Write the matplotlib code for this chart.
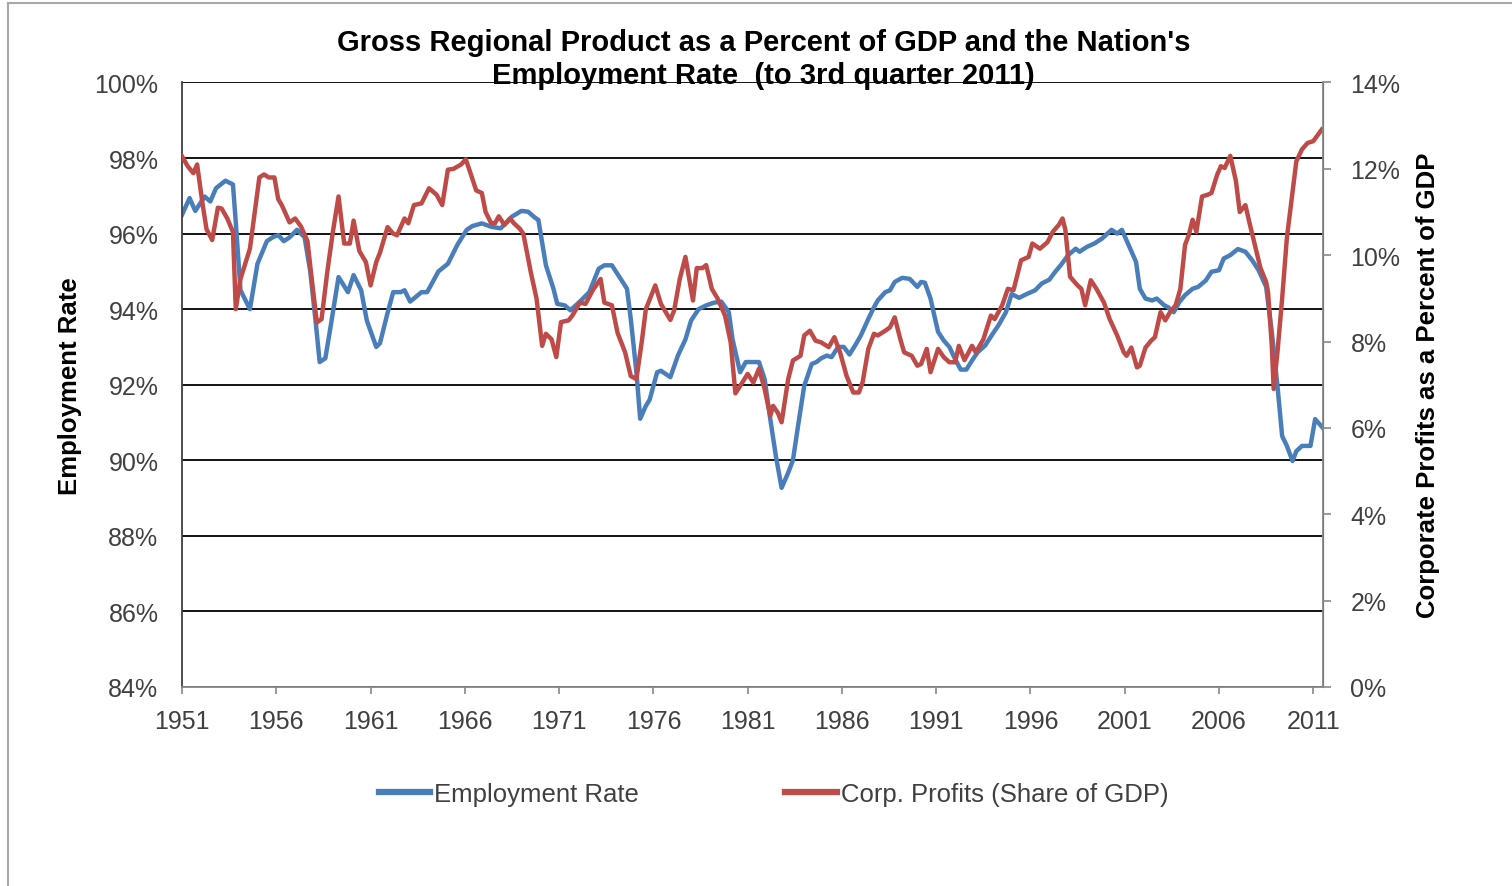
import matplotlib
matplotlib.use("Agg")
import matplotlib.pyplot as plt
from matplotlib.lines import Line2D
from matplotlib.ticker import FuncFormatter

plt.rcParams['font.family'] = ['Liberation Sans', 'DejaVu Sans']

# Employment rate (%)
emp_years = [
    1951.0, 1951.4, 1951.7, 1952.2, 1952.5, 1952.8, 1953.3, 1953.7, 1953.85, 1954.1,
    1954.6, 1955.0, 1955.5, 1955.8, 1956.1, 1956.4, 1956.7, 1957.1, 1957.5, 1957.8,
    1958.1, 1958.3, 1958.6, 1958.9, 1959.3, 1959.8, 1960.1, 1960.5, 1960.8, 1961.3,
    1961.5, 1961.9, 1962.2, 1962.6, 1962.8, 1963.1, 1963.7, 1964.0, 1964.6, 1965.1,
    1965.6, 1966.1, 1966.4, 1966.9, 1967.4, 1967.9, 1968.5, 1969.0, 1969.35, 1969.7,
    1969.9, 1970.3, 1970.7, 1970.9, 1971.3, 1971.6, 1972.1, 1972.6, 1973.1, 1973.4,
    1973.8, 1974.2, 1974.6, 1974.8, 1975.1, 1975.3, 1975.6, 1975.8, 1976.2, 1976.4,
    1976.9, 1977.3, 1977.7, 1978.0, 1978.4, 1978.8, 1979.2, 1979.6, 1980.0, 1980.2,
    1980.6, 1980.9, 1981.6, 1981.9, 1982.2, 1982.5, 1982.8, 1983.15, 1983.4, 1983.7,
    1984.0, 1984.4, 1984.65, 1984.9, 1985.2, 1985.45, 1985.8, 1986.1, 1986.4, 1986.7,
    1987.0, 1987.4, 1987.7, 1987.9, 1988.3, 1988.55, 1988.8, 1989.2, 1989.6, 1990.0,
    1990.2, 1990.4, 1990.7, 1990.9, 1991.1, 1991.4, 1991.7, 1992.0, 1992.3, 1992.6,
    1992.9, 1993.2, 1993.6, 1994.0, 1994.3, 1994.7, 1995.0, 1995.4, 1995.8, 1996.25,
    1996.6, 1997.0, 1997.3, 1997.6, 1998.0, 1998.4, 1998.6, 1999.0, 1999.4, 1999.8,
    2000.3, 2000.6, 2000.85, 2001.2, 2001.6, 2001.8, 2002.1, 2002.45, 2002.7, 2003.1,
    2003.3, 2003.6, 2003.9, 2004.2, 2004.6, 2004.9, 2005.3, 2005.6, 2006.0, 2006.25,
    2006.6, 2007.0, 2007.4, 2007.75, 2008.1, 2008.5, 2008.6, 2008.8, 2009.1, 2009.35,
    2009.6, 2009.9, 2010.1, 2010.4, 2010.85, 2011.1, 2011.5,
]
emp_rate = [
    96.5, 96.94, 96.6, 96.98, 96.85, 97.2, 97.4, 97.3, 96.3, 94.5,
    94.0, 95.2, 95.8, 95.9, 95.96, 95.8, 95.9, 96.1, 95.9, 95.0,
    93.6, 92.6, 92.7, 93.6, 94.85, 94.45, 94.9, 94.5, 93.7, 93.0,
    93.1, 93.9, 94.45, 94.45, 94.5, 94.2, 94.45, 94.45, 95.0, 95.2,
    95.7, 96.1, 96.2, 96.27, 96.18, 96.14, 96.45, 96.6, 96.58, 96.43,
    96.36, 95.16, 94.54, 94.14, 94.1, 93.97, 94.2, 94.45, 95.07, 95.16,
    95.16, 94.85, 94.54, 93.74, 92.33, 91.1, 91.44, 91.6, 92.33, 92.37,
    92.2, 92.77, 93.2, 93.7, 94.0, 94.1, 94.17, 94.2, 93.92, 93.2,
    92.33, 92.6, 92.6, 92.15, 91.09, 90.1, 89.27, 89.67, 90.0, 91.0,
    91.97, 92.55, 92.6, 92.7, 92.77, 92.73, 93.0, 93.0, 92.8, 93.04,
    93.3, 93.74, 94.05, 94.23, 94.45, 94.5, 94.72, 94.83, 94.8, 94.59,
    94.72, 94.7, 94.28, 93.83, 93.4, 93.17, 93.0, 92.68, 92.4, 92.4,
    92.64, 92.86, 93.04, 93.35, 93.57, 93.92, 94.4, 94.3, 94.4, 94.5,
    94.68, 94.78, 94.98, 95.16, 95.43, 95.6, 95.52, 95.65, 95.74, 95.87,
    96.1, 96.0, 96.1, 95.7, 95.25, 94.54, 94.28, 94.23, 94.28, 94.1,
    94.05, 93.92, 94.19, 94.37, 94.54, 94.59, 94.76, 94.99, 95.03, 95.34,
    95.43, 95.59, 95.52, 95.3, 95.03, 94.59, 94.19, 93.4, 91.97, 90.64,
    90.38, 89.98, 90.24, 90.38, 90.38, 91.09, 90.86,
]

# Corporate profits as share of GDP (%)
prof_years = [
    1951.0, 1951.3, 1951.6, 1951.8, 1952.1, 1952.3, 1952.6, 1952.9, 1953.1, 1953.4,
    1953.7, 1953.85, 1954.1, 1954.6, 1955.1, 1955.35, 1955.6, 1955.9, 1956.1, 1956.3,
    1956.7, 1957.0, 1957.3, 1957.65, 1957.9, 1958.15, 1958.4, 1958.7, 1959.0, 1959.3,
    1959.6, 1959.9, 1960.1, 1960.4, 1960.75, 1961.0, 1961.3, 1961.5, 1961.9, 1962.2,
    1962.4, 1962.8, 1963.0, 1963.3, 1963.7, 1964.1, 1964.5, 1964.8, 1965.1, 1965.4,
    1965.8, 1966.05, 1966.3, 1966.6, 1966.9, 1967.1, 1967.4, 1967.6, 1967.8, 1968.1,
    1968.4, 1968.6, 1968.9, 1969.1, 1969.5, 1969.8, 1970.1, 1970.3, 1970.6, 1970.85,
    1971.1, 1971.5, 1971.7, 1972.1, 1972.4, 1972.8, 1973.2, 1973.4, 1973.8, 1974.1,
    1974.5, 1974.8, 1975.1, 1975.4, 1975.6, 1976.1, 1976.4, 1976.9, 1977.1, 1977.4,
    1977.7, 1977.9, 1978.1, 1978.3, 1978.6, 1978.8, 1979.1, 1979.4, 1979.8, 1980.1,
    1980.35, 1980.6, 1981.0, 1981.3, 1981.6, 1981.9, 1982.2, 1982.35, 1982.6, 1982.8,
    1983.15, 1983.4, 1983.8, 1984.0, 1984.3, 1984.6, 1984.9, 1985.3, 1985.6, 1985.9,
    1986.25, 1986.6, 1986.9, 1987.1, 1987.4, 1987.7, 1987.9, 1988.3, 1988.55, 1988.8,
    1989.1, 1989.3, 1989.7, 1990.0, 1990.2, 1990.5, 1990.7, 1991.1, 1991.4, 1991.7,
    1992.0, 1992.2, 1992.5, 1992.9, 1993.1, 1993.5, 1993.9, 1994.1, 1994.5, 1994.8,
    1995.1, 1995.5, 1995.9, 1996.1, 1996.5, 1996.9, 1997.2, 1997.5, 1997.7, 1997.85,
    1998.1, 1998.5, 1998.7, 1998.9, 1999.2, 1999.5, 1999.9, 2000.2, 2000.6, 2000.95,
    2001.1, 2001.35, 2001.65, 2001.8, 2002.1, 2002.4, 2002.6, 2002.9, 2003.15, 2003.4,
    2003.7, 2003.95, 2004.2, 2004.4, 2004.6, 2004.8, 2005.1, 2005.4, 2005.6, 2005.9,
    2006.1, 2006.3, 2006.6, 2006.9, 2007.1, 2007.4, 2007.6, 2007.9, 2008.2, 2008.5,
    2008.6, 2008.8, 2008.9, 2009.1, 2009.35, 2009.6, 2009.9, 2010.1, 2010.4, 2010.7,
    2011.0, 2011.2, 2011.45,
]
prof_share = [
    12.29, 12.06, 11.9, 12.1, 11.15, 10.6, 10.35, 11.1, 11.08, 10.85,
    10.54, 8.75, 9.45, 10.15, 11.8, 11.87, 11.8, 11.8, 11.3, 11.15,
    10.76, 10.85, 10.67, 10.33, 9.37, 8.44, 8.52, 9.6, 10.54, 11.36,
    10.27, 10.27, 10.8, 10.1, 9.84, 9.3, 9.84, 10.06, 10.65, 10.5,
    10.46, 10.85, 10.74, 11.16, 11.2, 11.55, 11.4, 11.16, 11.98, 12.0,
    12.1, 12.22, 11.9, 11.5, 11.44, 11.0, 10.74, 10.74, 10.9, 10.7,
    10.85, 10.74, 10.62, 10.5, 9.6, 9.0, 7.9, 8.18, 8.05, 7.64,
    8.45, 8.49, 8.6, 8.9, 8.87, 9.2, 9.45, 8.9, 8.84, 8.2,
    7.75, 7.2, 7.13, 8.05, 8.75, 9.3, 8.87, 8.5, 8.72, 9.45,
    9.96, 9.45, 8.95, 9.7, 9.7, 9.77, 9.22, 9.0, 8.6, 7.98,
    6.8, 6.97, 7.25, 7.05, 7.37, 6.9, 6.28, 6.51, 6.35, 6.13,
    7.13, 7.56, 7.67, 8.14, 8.25, 8.02, 7.98, 7.87, 8.1, 7.75,
    7.2, 6.82, 6.82, 7.06, 7.83, 8.18, 8.14, 8.25, 8.33, 8.56,
    8.05, 7.75, 7.67, 7.44, 7.48, 7.83, 7.29, 7.83, 7.64, 7.52,
    7.52, 7.9, 7.57, 7.9, 7.75, 8.05, 8.6, 8.52, 8.84, 9.22,
    9.19, 9.88, 9.96, 10.27, 10.15, 10.3, 10.55, 10.7, 10.85, 10.59,
    9.5, 9.3, 9.22, 8.84, 9.42, 9.22, 8.9, 8.52, 8.14, 7.75,
    7.67, 7.86, 7.4, 7.44, 7.86, 8.02, 8.1, 8.68, 8.49, 8.68,
    8.84, 9.22, 10.24, 10.47, 10.82, 10.54, 11.36, 11.4, 11.44, 11.86,
    12.06, 12.02, 12.3, 11.71, 11.0, 11.16, 10.78, 10.24, 9.7, 9.38,
    9.15, 7.91, 6.9, 7.75, 9.0, 10.4, 11.47, 12.17, 12.45, 12.6,
    12.64, 12.76, 12.91,
]

year_ticks = list(range(1951, 2012, 5))
emp_ticks = list(range(84, 101, 2))
prof_ticks = list(range(0, 15, 2))

blue = '#4A7EBB'
red = '#BE4B48'
label_color = '#404040'

fig, ax = plt.subplots(figsize=(15.12, 8.87), dpi=100)
fig.subplots_adjust(left=0.1204, right=0.8748, top=0.9059, bottom=0.2244)
ax2 = ax.twinx()

ax.plot(emp_years, emp_rate, color=blue, lw=3.2, label='Employment Rate')
ax2.plot(prof_years, prof_share, color=red, lw=3.2, label='Corp. Profits (Share of GDP)')

ax.set_xlim(1951, 2011.5)
ax.set_ylim(84, 100)
ax2.set_ylim(0, 14)

ax.set_xticks(year_ticks)
ax.set_yticks(emp_ticks)
ax2.set_yticks(prof_ticks)
pct = FuncFormatter(lambda v, p: '%d%%' % v)
ax.yaxis.set_major_formatter(pct)
ax2.yaxis.set_major_formatter(pct)

ax.set_axisbelow(True)
ax.yaxis.grid(True, color='black', lw=1.3)

for a in (ax, ax2):
    a.spines['top'].set_visible(False)
ax.spines['left'].set_color('#404040')
ax.spines['left'].set_linewidth(1.3)
ax.spines['bottom'].set_color('#888888')
ax.spines['bottom'].set_linewidth(1.3)
ax2.spines['right'].set_color('#888888')
ax2.spines['right'].set_linewidth(1.3)
ax2.spines['left'].set_visible(False)
ax2.spines['bottom'].set_visible(False)

ax.tick_params(axis='x', direction='out', length=5, width=1.2, color='#888888',
               pad=11, labelsize=18, labelcolor=label_color)
ax.tick_params(axis='y', length=0, pad=17, labelsize=18, labelcolor=label_color)
ax2.tick_params(axis='y', direction='out', length=6, width=1.2, color='#888888',
                pad=14, labelsize=18, labelcolor=label_color)

ax.set_ylabel('Employment Rate', fontsize=18.5, fontweight='bold', labelpad=9)
ax2.set_ylabel('Corporate Profits as a Percent of GDP', fontsize=18.5,
               fontweight='bold', labelpad=11)

fig.text(0.505, 0.933, "Gross Regional Product as a Percent of GDP and the Nation's\n"
         "Employment Rate  (to 3rd quarter 2011)",
         ha='center', va='center', fontsize=21, fontweight='bold', linespacing=1.25)

handles = [Line2D([], [], color=blue, lw=4.5), Line2D([], [], color=red, lw=4.5)]
fig.legend(handles, ['Employment Rate', 'Corp. Profits (Share of GDP)'],
           loc='center', bbox_to_anchor=(0.5116, 0.104), ncol=2, frameon=False,
           fontsize=18.5, handlelength=2.0, handletextpad=0.15, columnspacing=5.7,
           labelcolor=label_color)

# light frame around the chart area
fig.add_artist(Line2D([8 / 1512, 1], [1 - 4 / 887, 1 - 4 / 887], color='#a8a8a8', lw=1.5))
fig.add_artist(Line2D([8 / 1512, 8 / 1512], [0, 1 - 4 / 887], color='#a8a8a8', lw=1.5))

fig.savefig('out.png', dpi=100)
